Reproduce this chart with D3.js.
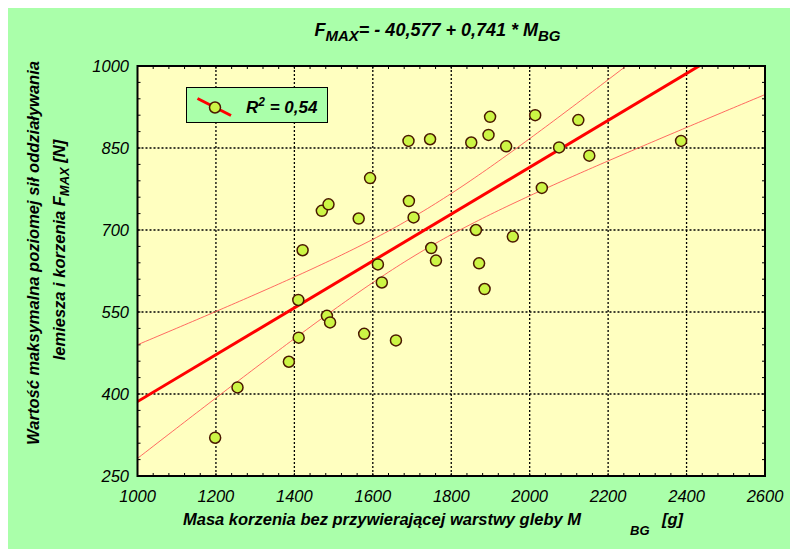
<!DOCTYPE html>
<html><head><meta charset="utf-8">
<script src="https://cdn.jsdelivr.net/npm/d3@7"></script>
<style>
html,body{margin:0;padding:0;background:#fff;}
svg{display:block;font-family:"Liberation Sans",Arial,sans-serif;}
</style></head>
<body>
<svg id="chart" width="790" height="549"></svg>
<script>
// Data: root mass M_BG [g] and max force F_MAX [N]
const massBG = [1691,1746,1593,1470,1487,1564,1692,1704,1421,1749,1761,1899,2014,2124,1851,1895,1940,2075,2152,2386,2031,1863,1957,1871,1885,1613,1623,1410,1483,1491,1411,1386,1578,1659,1255,1198];
const forceMAX = [863,866,795,735,747,721,753,723,663,667,644,907,910,901,860,874,853,851,836,863,777,700,688,639,592,637,604,572,543,531,503,459,510,498,412,320];
const xTicks = [1000,1200,1400,1600,1800,2000,2200,2400,2600];
const yTicks = [250,400,550,700,850,1000];
const tCrit = 2.032; // t(0.975, n-2)

const svg = d3.select("#chart");
svg.append("rect").attr("x",8).attr("y",8).attr("width",782).attr("height",541).attr("fill","#aaffaa");

const L=137.5,R=765,T=66,B=476;
const x = d3.scaleLinear().domain([1000,2600]).range([L,R]);
const y = d3.scaleLinear().domain([250,1000]).range([B,T]);

svg.append("rect").attr("x",L).attr("y",T).attr("width",R-L).attr("height",B-T).attr("fill","#ffffc0");

// grid
const grid = svg.append("g").attr("stroke","#000").attr("stroke-width",1.3).attr("stroke-dasharray","2,2");
xTicks.slice(1,-1).forEach(v=>grid.append("line").attr("x1",x(v)).attr("x2",x(v)).attr("y1",T).attr("y2",B));
yTicks.slice(1,-1).forEach(v=>grid.append("line").attr("y1",y(v)).attr("y2",y(v)).attr("x1",L).attr("x2",R));

// minor ticks inside on all sides
const tk = svg.append("g").attr("stroke","#000").attr("stroke-width",1);
d3.range(1000,2601,40).forEach(v=>{
  tk.append("line").attr("x1",x(v)).attr("x2",x(v)).attr("y1",B).attr("y2",B-3);
  tk.append("line").attr("x1",x(v)).attr("x2",x(v)).attr("y1",T).attr("y2",T+3);
});
d3.range(250,1001,30).forEach(v=>{
  tk.append("line").attr("y1",y(v)).attr("y2",y(v)).attr("x1",L).attr("x2",L+3);
  tk.append("line").attr("y1",y(v)).attr("y2",y(v)).attr("x1",R).attr("x2",R-3);
});

// regression
const n = massBG.length;
const mx = d3.mean(massBG), my = d3.mean(forceMAX);
let sxx=0,sxy=0,syy=0;
for(let i=0;i<n;i++){const dx=massBG[i]-mx,dy=forceMAX[i]-my;sxx+=dx*dx;sxy+=dx*dy;syy+=dy*dy;}
const b = sxy/sxx, a = my-b*mx;
const s = Math.sqrt((syy-sxy*sxy/sxx)/(n-2));
const xs = d3.range(1000,2601,10);
const half = v=>tCrit*s*Math.sqrt(1/n+(v-mx)*(v-mx)/sxx);

svg.append("clipPath").attr("id","clip").append("rect").attr("x",L).attr("y",T).attr("width",R-L).attr("height",B-T);
const pl = svg.append("g").attr("clip-path","url(#clip)");
const ln = d3.line().x(d=>x(d[0])).y(d=>y(d[1]));
pl.append("path").attr("d",ln(xs.map(v=>[v,a+b*v+half(v)]))).attr("fill","none").attr("stroke","#ff5050").attr("stroke-width",1).attr("stroke-opacity",0.85);
pl.append("path").attr("d",ln(xs.map(v=>[v,a+b*v-half(v)]))).attr("fill","none").attr("stroke","#ff5050").attr("stroke-width",1).attr("stroke-opacity",0.85);
pl.append("path").attr("d",ln([[1000,a+b*1000],[2600,a+b*2600]])).attr("fill","none").attr("stroke","#ff0000").attr("stroke-width",3);

// points
svg.append("g").selectAll("circle").data(massBG.map((m,i)=>[m,forceMAX[i]])).join("circle")
  .attr("cx",d=>x(d[0])).attr("cy",d=>y(d[1])).attr("r",5.5)
  .attr("fill","#ccf545").attr("stroke","#4a1800").attr("stroke-width",1.5);

// frame
svg.append("rect").attr("x",L).attr("y",T).attr("width",R-L).attr("height",B-T).attr("fill","none").attr("stroke","#000").attr("stroke-width",2);

// tick labels
svg.append("g").selectAll("text").data(xTicks).join("text")
  .attr("x",d=>x(d)).attr("y",502).attr("text-anchor","middle")
  .attr("font-size",16.5).attr("font-style","italic").text(d=>d);
svg.append("g").selectAll("text").data(yTicks).join("text")
  .attr("x",129).attr("y",d=>y(d)+6).attr("text-anchor","end")
  .attr("font-size",16.5).attr("font-style","italic").text(d=>d);

// title
const tt = svg.append("text").attr("x",437.5).attr("y",36).attr("text-anchor","middle")
  .attr("font-size",18).attr("font-weight","bold").attr("font-style","italic");
tt.append("tspan").text("F");
tt.append("tspan").attr("font-size",15).attr("dy",4.5).text("MAX");
tt.append("tspan").attr("dy",-4.5).text("= - 40,577 + 0,741 * M");
tt.append("tspan").attr("font-size",15).attr("dy",4.5).text("BG");

// x label
const xl = svg.append("text").attr("y",525).attr("font-size",16.5).attr("font-weight","bold").attr("font-style","italic");
xl.append("tspan").attr("x",183).text("Masa korzenia bez przywierającej warstwy gleby M");
xl.append("tspan").attr("x",630).attr("y",535).attr("font-size",13).text("BG");
xl.append("tspan").attr("x",662).attr("y",525).text("[g]");

// y label
const yl1 = svg.append("text").attr("transform","translate(39,253) rotate(-90)").attr("text-anchor","middle")
  .attr("font-size",16.5).attr("font-weight","bold").attr("font-style","italic")
  .text("Wartość maksymalna poziomej sił oddziaływania");
const yl2 = svg.append("text").attr("transform","translate(65,250) rotate(-90)").attr("text-anchor","middle")
  .attr("font-size",16.5).attr("font-weight","bold").attr("font-style","italic");
yl2.append("tspan").text("lemiesza i korzenia F");
yl2.append("tspan").attr("font-size",13).attr("dy",4).text("MAX");
yl2.append("tspan").attr("dy",-4).text(" [N]");

// legend
const lg = svg.append("g");
lg.append("rect").attr("x",186.5).attr("y",87.5).attr("width",141).attr("height",35).attr("fill","#aaffaa").attr("stroke","#000").attr("stroke-width",1);
lg.append("line").attr("x1",197.5).attr("y1",98.5).attr("x2",231).attr("y2",115.5).attr("stroke","#ff0000").attr("stroke-width",3);
lg.append("circle").attr("cx",215).attr("cy",107.5).attr("r",5.5).attr("fill","#ccf545").attr("stroke","#4a1800").attr("stroke-width",1.5);
const lt = lg.append("text").attr("x",246).attr("y",113).attr("font-size",17).attr("font-weight","bold").attr("font-style","italic");
lt.append("tspan").text("R");
lt.append("tspan").attr("font-size",12).attr("dy",-7).text("2");
lt.append("tspan").attr("dy",7).text(" = 0,54");
</script>
</body></html>
